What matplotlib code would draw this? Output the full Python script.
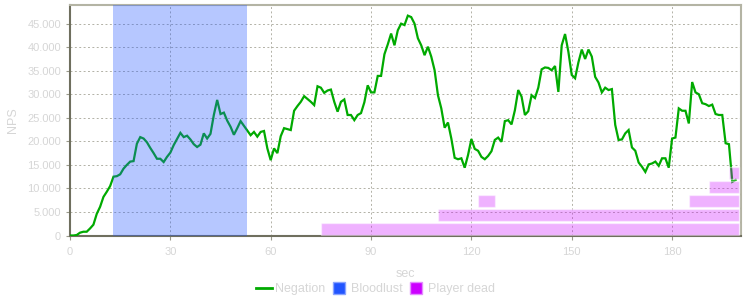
import matplotlib
matplotlib.use("Agg")
import matplotlib.pyplot as plt
from matplotlib.ticker import FuncFormatter, MultipleLocator
from matplotlib.lines import Line2D

plt.rcParams['font.family'] = ['Liberation Sans', 'DejaVu Sans']

# --- data -------------------------------------------------------------
seconds = list(range(0, 200))
nps_k = [0, 0, 0.1, 0.6, 0.8, 0.8, 1.5, 2.3, 4.6, 6.1,
         8.2, 9.3, 10.5, 12.5, 12.6, 13.0, 14.2, 15.0, 15.7, 15.8,
         19.5, 20.9, 20.6, 19.8, 18.6, 17.5, 16.3, 16.3, 15.6, 16.7,
         17.6, 19.2, 20.5, 21.8, 20.9, 21.2, 20.4, 19.4, 18.8, 19.3,
         21.7, 20.6, 21.6, 25.6, 28.8, 25.8, 26.1, 24.4, 23.1, 21.4,
         22.8, 24.3, 23.3, 22.3, 21.3, 22.0, 21.0, 22.0, 22.2, 18.5,
         16.0, 18.5, 17.5, 21.1, 22.8, 22.6, 22.4, 26.5, 27.5, 28.4,
         29.6, 29.0, 28.4, 27.7, 31.7, 31.4, 30.3, 30.8, 31.0, 28.4,
         26.3, 28.4, 28.9, 25.6, 25.6, 24.5, 25.6, 26.0, 28.3, 31.9,
         30.4, 30.4, 33.9, 33.9, 38.5, 40.6, 42.9, 40.4, 43.6, 45.0,
         44.7, 46.7, 46.4, 45.0, 41.9, 40.4, 38.3, 40.1, 38.0, 35.1,
         29.8, 27.0, 22.9, 24.0, 20.6, 16.5, 16.2, 16.4, 14.4, 17.1,
         20.5, 18.4, 18.0, 16.7, 16.2, 16.9, 17.9, 20.3, 20.8, 19.9,
         24.3, 24.5, 23.6, 26.6, 30.9, 29.5, 25.6, 26.4, 29.8, 29.2,
         31.4, 35.3, 35.7, 35.6, 35.1, 36.0, 30.5, 40.4, 42.8, 39.0,
         34.1, 33.4, 36.8, 39.5, 37.5, 39.5, 38.0, 33.7, 32.5, 30.4,
         31.4, 30.9, 31.1, 23.5, 20.3, 20.4, 21.7, 22.4, 18.7, 18.0,
         15.5, 14.6, 13.5, 15.1, 15.3, 15.7, 14.8, 16.4, 16.4, 14.4,
         20.6, 20.8, 27.0, 26.5, 26.5, 23.8, 32.6, 30.4, 30.0, 28.1,
         27.9, 27.5, 27.8, 25.8, 25.6, 25.6, 19.6, 19.4, 11.4, 11.8]
nps = [v * 1000 for v in nps_k]

bloodlust_start = 13
bloodlust_end = 53

# player dead bars: (start sec, end sec, row)
dead_start = [75, 110, 122, 185, 191, 197]
dead_end = [200, 200, 127, 200, 200, 200]
dead_row = [0, 1, 2, 2, 3, 4]

# --- figure -----------------------------------------------------------
fig = plt.figure(figsize=(7.5, 3.0), dpi=100)
ax = fig.add_axes([70 / 750, 64.5 / 300, 671 / 750, 231 / 300])

ax.set_xlim(0, 200.6)
ax.set_ylim(0, 49070)

ax.grid(True, color='#b2b1a6', linestyle=(0, (2, 2.5)), linewidth=0.7)
ax.set_axisbelow(True)

line_color = '#00aa00'
ax.plot(seconds, nps, color=line_color, linewidth=1.6, zorder=3,
        solid_joinstyle='miter')

ax.axvspan(bloodlust_start, bloodlust_end, color='#2255ff', alpha=0.33,
           linewidth=0, zorder=4)

ax2 = ax.twinx()
ax2.set_ylim(0, 231 / 14)
ax2.set_yticks([])
for s in ax2.spines.values():
    s.set_visible(False)
for s, e, r in zip(dead_start, dead_end, dead_row):
    ax2.barh(r + 0.43, e - s, left=s, height=0.857,
             color=(0.8, 0.0, 1.0, 0.3), edgecolor=(1, 1, 1, 0.45),
             linewidth=1.0, zorder=5)

ax.xaxis.set_major_locator(MultipleLocator(30))
ax.yaxis.set_major_locator(MultipleLocator(5000))
ax.yaxis.set_major_formatter(FuncFormatter(lambda v, p: f"{int(v):,}".replace(",", ".")))

ax.tick_params(axis='both', colors='#9a9a8c', labelcolor='#d6d6d6',
               labelsize=8, length=3, width=0.8)
ax.tick_params(axis='x', pad=5)

for side in ['left', 'bottom']:
    ax.spines[side].set_color('#6f6f5e')
    ax.spines[side].set_linewidth(1.5)
for side in ['top', 'right']:
    ax.spines[side].set_color('#b4b4a4')
    ax.spines[side].set_linewidth(1.5)

ax.set_xlabel('sec', color='#d6d6d6', fontsize=9, labelpad=8)
ax.set_ylabel('NPS', color='#d6d6d6', fontsize=9, labelpad=6)

handles = [
    Line2D([], [], color=line_color, linewidth=2),
    Line2D([], [], marker='s', linestyle='none', markersize=9,
           markerfacecolor='#2255ff', markeredgecolor='#8aa4ff'),
    Line2D([], [], marker='s', linestyle='none', markersize=9,
           markerfacecolor='#cc00ff', markeredgecolor='#e48cff'),
]
leg = fig.legend(handles, ['Negation', 'Bloodlust', 'Player dead'],
                 loc='center', bbox_to_anchor=(0.5, 11 / 300), ncol=3,
                 frameon=False, fontsize=9, handlelength=1.3,
                 handletextpad=0.3, columnspacing=0.4)
for t in leg.get_texts():
    t.set_color('#d6d6d6')

fig.savefig('out.png', dpi=100)
